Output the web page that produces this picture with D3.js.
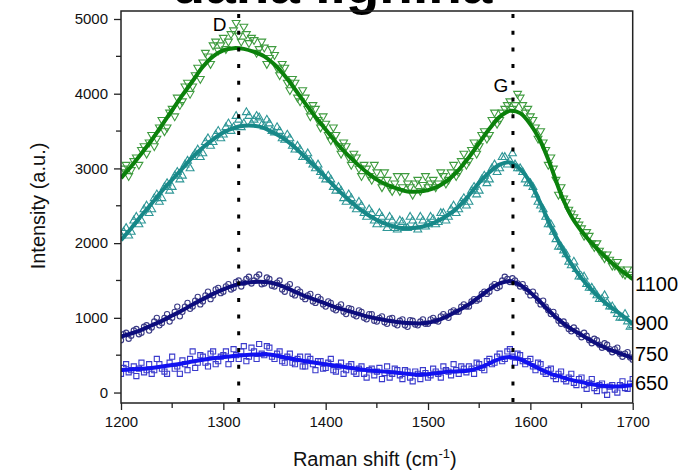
<!DOCTYPE html>
<html><head><meta charset="utf-8">
<script src="https://cdn.jsdelivr.net/npm/d3@7"></script>
<style>html,body{margin:0;padding:0;background:#fff;}svg{display:block;font-family:"Liberation Sans",Arial,sans-serif;}</style>
</head><body>
<svg id="chart" width="689" height="472"></svg>
<script>
// ---- data ----
const title = "dana lignina";
const xTicks = [1200, 1300, 1400, 1500, 1600, 1700];
const yTicks = [0, 1000, 2000, 3000, 4000, 5000];
const seriesNames = ["1100", "900", "750", "650"];
const peakNames = ["D", "G"];
const peakPositions = [1315, 1583];

// fitted curves sampled every 10 cm-1 from 1200 to 1700
const fitShift = [1200,1210,1220,1230,1240,1250,1260,1270,1280,1290,1300,1310,1320,1330,1340,1350,1360,1370,1380,1390,1400,1410,1420,1430,1440,1450,1460,1470,1480,1490,1500,1510,1520,1530,1540,1550,1560,1570,1580,1590,1600,1610,1620,1630,1640,1650,1660,1670,1680,1690,1700];
const fit1100 = [2870,3030,3200,3380,3580,3780,3980,4170,4360,4500,4580,4610,4600,4560,4500,4390,4240,4060,3870,3690,3520,3350,3200,3070,2950,2850,2780,2730,2690,2690,2710,2760,2850,2980,3150,3340,3530,3690,3770,3740,3590,3360,3030,2650,2360,2160,2000,1860,1730,1620,1520];
const fit900  = [2040,2200,2370,2530,2700,2850,3000,3150,3280,3390,3480,3540,3570,3570,3540,3470,3390,3280,3150,3020,2880,2740,2610,2490,2390,2310,2250,2210,2200,2210,2240,2300,2380,2490,2640,2810,2950,3050,3080,2990,2810,2530,2220,1960,1720,1530,1370,1240,1130,1030,920];
const fit750  = [750,790,840,900,960,1030,1100,1180,1250,1320,1380,1430,1465,1480,1480,1460,1410,1350,1290,1240,1190,1140,1100,1060,1020,990,965,945,930,925,935,970,1030,1100,1180,1280,1380,1460,1490,1440,1340,1210,1070,950,850,770,690,620,560,510,460];
const fit650  = [300,310,318,330,348,368,390,415,438,458,475,490,500,508,512,500,470,445,420,398,378,358,338,318,300,288,278,265,250,240,245,262,280,285,295,330,390,450,475,445,380,310,250,210,170,140,110,90,80,85,100];

// measured points, first pass: every 5 cm-1 from 1200 to 1700
const dataShiftA = [1200,1205,1210,1215,1220,1225,1230,1235,1240,1245,1250,1255,1260,1265,1270,1275,1280,1285,1290,1295,1300,1305,1310,1315,1320,1325,1330,1335,1340,1345,1350,1355,1360,1365,1370,1375,1380,1385,1390,1395,1400,1405,1410,1415,1420,1425,1430,1435,1440,1445,1450,1455,1460,1465,1470,1475,1480,1485,1490,1495,1500,1505,1510,1515,1520,1525,1530,1535,1540,1545,1550,1555,1560,1565,1570,1575,1580,1585,1590,1595,1600,1605,1610,1615,1620,1625,1630,1635,1640,1645,1650,1655,1660,1665,1670,1675,1680,1685,1690,1695,1700];
const data1100A = [2950,3050,2980,3150,3250,3200,3450,3400,3650,3550,3800,3950,3900,4150,4100,4350,4420,4500,4650,4580,4750,4700,4850,4780,4900,4680,4720,4600,4620,4480,4520,4250,4350,4050,4150,3900,3950,3700,3800,3550,3600,3380,3450,3200,3300,3050,3150,2900,3000,2850,2950,2750,2850,2700,2900,2750,2800,2650,2850,2780,2750,2850,2800,2900,2850,3050,2950,3200,3100,3350,3300,3500,3450,3750,3650,3800,3900,3850,3950,3750,3700,3550,3500,3250,3150,2850,2750,2550,2400,2300,2200,2150,2000,2000,1850,1850,1700,1750,1600,1650,1550];
const data900A  = [2100,2200,2150,2350,2300,2500,2450,2650,2600,2800,2750,2950,2900,3100,3150,3250,3200,3400,3350,3500,3450,3600,3550,3650,3600,3700,3650,3680,3560,3600,3480,3500,3380,3400,3250,3250,3150,3100,3000,2950,2850,2850,2700,2700,2550,2600,2450,2500,2350,2400,2250,2350,2200,2300,2180,2280,2200,2300,2180,2300,2250,2320,2280,2400,2350,2500,2450,2600,2550,2750,2700,2900,2850,3050,3000,3150,3100,3050,3000,2850,2800,2650,2500,2350,2250,2050,1950,1850,1700,1650,1550,1450,1400,1300,1250,1200,1150,1050,1000,950,900];
const data750A  = [700,800,760,850,800,900,870,1000,930,1050,1000,1150,1080,1200,1150,1280,1220,1350,1300,1400,1350,1450,1400,1500,1470,1550,1500,1580,1460,1520,1420,1500,1350,1450,1300,1350,1250,1320,1200,1250,1150,1200,1100,1180,1050,1120,1020,1080,980,1050,950,1020,920,1000,900,980,880,960,900,980,920,1000,950,1050,1000,1100,1080,1180,1150,1250,1250,1350,1350,1450,1420,1550,1480,1500,1420,1400,1300,1300,1180,1150,1050,1020,920,900,820,830,740,760,660,700,600,640,540,600,480,540,440];
const data650A  = [250,380,300,220,400,300,250,450,320,250,480,350,430,300,550,400,480,350,550,420,500,380,580,450,620,480,550,650,500,600,450,550,400,520,380,480,350,450,300,420,330,450,280,400,300,380,250,350,200,320,280,180,350,250,300,180,280,150,250,300,200,320,250,350,280,380,250,320,350,250,380,300,450,400,520,450,580,400,500,380,450,300,380,250,320,180,280,150,250,100,200,50,180,20,120,-30,100,0,150,50,180];

// measured points, second pass: every 5 cm-1 from 1202.5 to 1697.5
const dataShiftB = [1202.5,1207.5,1212.5,1217.5,1222.5,1227.5,1232.5,1237.5,1242.5,1247.5,1252.5,1257.5,1262.5,1267.5,1272.5,1277.5,1282.5,1287.5,1292.5,1297.5,1302.5,1307.5,1312.5,1317.5,1322.5,1327.5,1332.5,1337.5,1342.5,1347.5,1352.5,1357.5,1362.5,1367.5,1372.5,1377.5,1382.5,1387.5,1392.5,1397.5,1402.5,1407.5,1412.5,1417.5,1422.5,1427.5,1432.5,1437.5,1442.5,1447.5,1452.5,1457.5,1462.5,1467.5,1472.5,1477.5,1482.5,1487.5,1492.5,1497.5,1502.5,1507.5,1512.5,1517.5,1522.5,1527.5,1532.5,1537.5,1542.5,1547.5,1552.5,1557.5,1562.5,1567.5,1572.5,1577.5,1582.5,1587.5,1592.5,1597.5,1602.5,1607.5,1612.5,1617.5,1622.5,1627.5,1632.5,1637.5,1642.5,1647.5,1652.5,1657.5,1662.5,1667.5,1672.5,1677.5,1682.5,1687.5,1692.5,1697.5];
const data1100B = [3000,2900,3100,3050,3300,3350,3300,3550,3500,3750,3700,3850,4100,4000,4250,4200,4550,4400,4700,4650,4600,4800,4950,4700,4800,4750,4550,4700,4400,4600,4350,4400,4150,4200,3950,4050,3800,3850,3650,3700,3450,3550,3300,3350,3150,3200,3000,3050,2900,3050,2850,2950,2750,2800,2700,2900,2750,2800,2700,2900,2800,2750,2950,2800,2950,2900,3100,3050,3250,3200,3450,3400,3650,3600,3750,3850,3800,4000,3850,3800,3650,3400,3350,3050,3000,2650,2600,2450,2350,2250,2100,2100,1950,1900,1800,1780,1700,1650,1580,1580];
const data900B  = [2150,2100,2300,2250,2450,2400,2600,2550,2750,2700,2900,2850,3050,3000,3200,3150,3350,3300,3450,3400,3550,3500,3700,3550,3750,3600,3700,3580,3650,3500,3550,3400,3450,3300,3300,3150,3200,3050,3050,2900,2900,2750,2750,2600,2650,2500,2550,2400,2450,2300,2400,2250,2350,2200,2300,2200,2350,2220,2350,2220,2350,2250,2400,2300,2450,2400,2550,2500,2700,2650,2850,2800,3000,2950,3150,3050,3200,3000,2950,2800,2750,2550,2450,2250,2150,1950,1900,1750,1750,1550,1550,1400,1350,1250,1300,1150,1100,1000,1050,880];
const data750B  = [780,720,830,780,880,830,950,900,1000,950,1080,1020,1150,1120,1230,1180,1300,1250,1380,1330,1420,1380,1480,1420,1520,1460,1550,1450,1540,1430,1470,1380,1420,1320,1380,1280,1300,1220,1280,1180,1220,1120,1150,1080,1130,1040,1100,1000,1050,960,1000,940,990,920,960,900,970,910,950,920,980,960,1020,1020,1080,1080,1150,1150,1220,1230,1320,1320,1420,1400,1500,1520,1530,1460,1450,1350,1350,1230,1230,1100,1080,960,950,850,870,780,800,700,720,640,660,580,580,520,520,470];
const data650B  = [330,270,350,320,270,380,300,380,280,400,320,250,380,450,330,500,400,520,380,480,550,450,500,550,420,600,450,520,620,480,520,420,480,400,450,350,480,380,420,320,400,300,350,250,350,280,320,250,300,230,330,260,200,320,230,300,200,280,180,260,230,280,200,300,230,300,350,270,320,400,330,420,380,480,420,550,480,520,420,420,350,400,280,300,220,250,180,200,130,180,100,130,60,100,30,80,40,100,60,120];

// ---- layout ----
const M = {left: 121, right: 632.7, top: 11, bottom: 403};
const svg = d3.select("#chart");

const x = d3.scaleLinear().domain([1200, 1700]).range([M.left, M.right]);
const y = d3.scaleLinear().domain([-140, 5107]).range([M.bottom, M.top]);

const styles = [
  {name: seriesNames[0], fit: fit1100, a: data1100A, b: data1100B, line: "#0b810b", mark: "#3f9b3f", sym: "down", size: 27},
  {name: seriesNames[1], fit: fit900,  a: data900A,  b: data900B,  line: "#178888", mark: "#2f9797", sym: d3.symbolTriangle, size: 27},
  {name: seriesNames[2], fit: fit750,  a: data750A,  b: data750B,  line: "#0d0d7d", mark: "#3a3a86", sym: d3.symbolCircle, size: 22},
  {name: seriesNames[3], fit: fit650,  a: data650A,  b: data650B,  line: "#1212f0", mark: "#3a3acc", sym: d3.symbolSquare, size: 26}
];

// title (partially cut by top edge, as in the source image)
svg.append("text").attr("x", 332).attr("y", 3).attr("text-anchor", "middle")
  .attr("font-size", 55).attr("font-weight", "bold").attr("fill", "#000").text(title);

svg.append("defs").append("clipPath").attr("id", "clip").append("rect")
  .attr("x", M.left).attr("y", M.top).attr("width", M.right - M.left).attr("height", M.bottom - M.top);

const plot = svg.append("g").attr("clip-path", "url(#clip)");

// points
styles.forEach(s => {
  const symGen = d3.symbol().type(s.sym === "down" ? d3.symbolTriangle : s.sym).size(s.size);
  const pts = dataShiftA.map((d, i) => [d, s.a[i]])
    .concat(dataShiftB.map((d, i) => [d, s.b[i]]))
    .filter(p => p[1] !== undefined);
  plot.append("g").selectAll("path").data(pts).join("path")
    .attr("d", symGen())
    .attr("transform", d => `translate(${x(d[0])},${y(d[1])})` + (s.sym === "down" ? " rotate(180)" : ""))
    .attr("fill", "none").attr("stroke", s.mark).attr("stroke-width", 1.1);
});

// fit lines
const lineGen = d3.line().x(d => x(d[0])).y(d => y(d[1])).curve(d3.curveCatmullRom);
styles.forEach(s => {
  plot.append("path").datum(fitShift.map((d, i) => [d, s.fit[i]]))
    .attr("d", lineGen).attr("fill", "none").attr("stroke", s.line).attr("stroke-width", 4)
    .attr("stroke-linejoin", "round");
});

// peak markers
peakPositions.forEach(p => {
  svg.append("line").attr("x1", x(p)).attr("x2", x(p)).attr("y1", M.top + 3).attr("y2", M.bottom)
    .attr("stroke", "#000").attr("stroke-width", 3).attr("stroke-dasharray", "4 12.7");
});
svg.append("text").attr("x", x(peakPositions[0]) - 19).attr("y", 31).attr("text-anchor", "middle")
  .attr("font-size", 19).text(peakNames[0]);
svg.append("text").attr("x", x(peakPositions[1]) - 12).attr("y", 92).attr("text-anchor", "middle")
  .attr("font-size", 19).text(peakNames[1]);

// frame
svg.append("rect").attr("x", M.left).attr("y", M.top).attr("width", M.right - M.left).attr("height", M.bottom - M.top)
  .attr("fill", "none").attr("stroke", "#222").attr("stroke-width", 1.5);

// axes
const xAxis = d3.axisBottom(x).tickValues(xTicks).tickSize(7).tickPadding(6).tickFormat(d3.format("d"));
const gx = svg.append("g").attr("transform", `translate(0,${M.bottom})`).call(xAxis);
const yAxis = d3.axisLeft(y).tickValues(yTicks).tickSize(7).tickPadding(6).tickFormat(d3.format("d"));
const gy = svg.append("g").attr("transform", `translate(${M.left},0)`).call(yAxis);
[gx, gy].forEach(g => {
  g.select(".domain").remove();
  g.selectAll("line").attr("stroke", "#222").attr("stroke-width", 1.3);
  g.selectAll("text").attr("font-size", 15).attr("fill", "#111").attr("font-family", "'Liberation Sans', Arial, sans-serif");
});
// minor ticks
const xMinor = d3.range(1250, 1700, 100);
svg.append("g").selectAll("line").data(xMinor).join("line")
  .attr("x1", d => x(d)).attr("x2", d => x(d)).attr("y1", M.bottom).attr("y2", M.bottom + 5)
  .attr("stroke", "#222").attr("stroke-width", 1.3);
const yMinor = d3.range(500, 5000, 1000);
svg.append("g").selectAll("line").data(yMinor).join("line")
  .attr("x1", M.left - 5).attr("x2", M.left).attr("y1", d => y(d)).attr("y2", d => y(d))
  .attr("stroke", "#222").attr("stroke-width", 1.3);

// axis titles
const xt = svg.append("text").attr("x", (M.left + M.right) / 2 - 2).attr("y", 466).attr("text-anchor", "middle")
  .attr("font-size", 20).attr("fill", "#111");
xt.append("tspan").text("Raman shift (cm");
xt.append("tspan").attr("font-size", 13).attr("dy", -8).text("-1");
xt.append("tspan").attr("dy", 8).text(")");

svg.append("text").attr("transform", `translate(45,206) rotate(-90)`).attr("text-anchor", "middle")
  .attr("font-size", 20).attr("fill", "#111").text("Intensity (a.u.)");

// series labels at right
const labelY = [290.5, 330, 360.5, 390];
seriesNames.forEach((n, i) => {
  svg.append("text").attr("x", 635).attr("y", labelY[i]).attr("font-size", 20).attr("fill", "#000").text(n);
});
</script>
</body></html>
